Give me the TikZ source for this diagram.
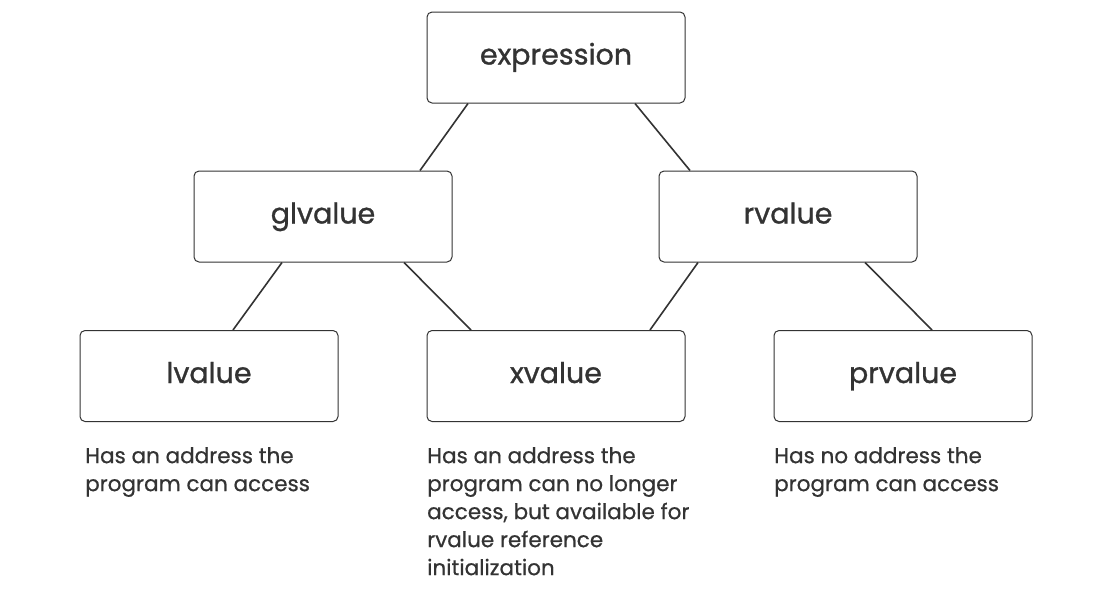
\documentclass[tikz,border=0pt]{standalone}
\usepackage{fontspec}
\setmainfont{Poppins}
\newfontfamily\boxfont{Poppins}[FakeBold=1]
\newfontfamily\descfont{Poppins}[FakeBold=0.6]
\usetikzlibrary{calc}
\definecolor{ink}{HTML}{333333}
\tikzset{
  box/.style={draw=ink, line width=1pt, rounded corners=5pt, minimum width=258pt, minimum height=91pt, inner sep=0pt, text height=18pt, text depth=4pt, text=ink, font=\boxfont\fontsize{28.5}{32}\selectfont},
  desc/.style={anchor=north west, align=left, inner sep=0pt, text=ink, font=\descfont\fontsize{21.5}{28}\selectfont},
  link/.style={draw=ink, line width=1.6pt}
}
\begin{document}
\begin{tikzpicture}[x=1pt,y=-1pt]
\useasboundingbox[fill=white] (0,0) rectangle (1111,590);
\node[box] (expr) at (556,57.5) {expression};
\node[box] (gl) at (323,216.5) {glvalue};
\node[box] (rv) at (788,216.5) {rvalue};
\node[box] (lv) at (209,376) {lvalue};
\node[box] (xv) at (556,376) {xvalue};
\node[box] (pr) at (903,376) {prvalue};
\draw[link] ($(expr.south)+(-88,0)$) -- ($(gl.north)+(97,0)$);
\draw[link] ($(expr.south)+(79,0)$) -- ($(rv.north)+(-98,0)$);
\draw[link] ($(gl.south)+(-41,0)$) -- ($(lv.north)+(24,0)$);
\draw[link] ($(gl.south)+(81,0)$) -- ($(xv.north)+(-85,0)$);
\draw[link] ($(rv.south)+(-90,0)$) -- ($(xv.north)+(94,0)$);
\draw[link] ($(rv.south)+(77,0)$) -- ($(pr.north)+(29,0)$);
\node[desc] (d1) at (85,447) {Has an address the\\program can access};
\node[desc] (d2) at (427,447) {Has an address the\\program can no longer\\access, but available for\\rvalue reference\\initialization};
\node[desc] (d3) at (774,447) {Has no address the\\program can access};
\end{tikzpicture}
\end{document}
